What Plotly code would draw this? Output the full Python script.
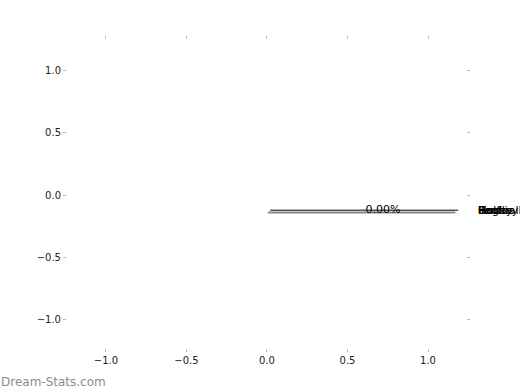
import plotly.graph_objects as go

# Data
categories = ["Tennis", "Golf", "Rugby", "Hockey", "Football"]
values = [0, 0, 0, 0, 0]
x_ticks = [-1.0, -0.5, 0.0, 0.5, 1.0]
y_ticks = [-1.0, -0.5, 0.0, 0.5, 1.0]

radius = 1.2
center_y = [-0.122, -0.14]   # two visible degenerate wedge edges
edge_colors = ["#000000", "#888888"]
edge_widths = [1, 2]
edge_start = [0.02, 0.005]
label_distance = 1.1
pct_distance = 0.6

x_range = [-1.242, 1.236]
y_range = [-1.229, 1.245]

total = sum(values)
pcts = [(v / total * 100) if total else 0.0 for v in values]

fig = go.Figure()

for cy, col, w, s in zip(center_y[::-1], edge_colors[::-1], edge_widths[::-1], edge_start[::-1]):
    fig.add_trace(go.Scatter(x=[s, radius * (0.99 if w == 1 else 0.975)], y=[cy, cy], mode="lines",
                             line=dict(color=col, width=w), hoverinfo="skip", showlegend=False))

pct_texts = sorted(set(f"{p:.2f}%" for p in pcts))
fig.add_trace(go.Scatter(
    x=[radius * pct_distance] * len(pct_texts), y=[center_y[0]] * len(pct_texts),
    mode="text", text=pct_texts, textposition="middle center",
    textfont=dict(family="DejaVu Sans", size=11, color="#000000"),
    showlegend=False, hoverinfo="skip", cliponaxis=False))

# category labels lie outside the axis range -> place in paper coords
lx = (radius * label_distance - x_range[0]) / (x_range[1] - x_range[0])
ly = (center_y[0] - y_range[0]) / (y_range[1] - y_range[0])
for cat in categories:
    fig.add_annotation(x=lx, y=ly, xref="paper", yref="paper", xshift=-4,
                       text=cat, showarrow=False, xanchor="left", yanchor="middle",
                       font=dict(family="DejaVu Sans", size=11, color="#000000"))

axis_common = dict(showgrid=False, zeroline=False, showline=False, ticks="outside",
                   ticklen=3, tickwidth=1, tickcolor="#bbbbbb", mirror="ticks",
                   tickfont=dict(family="DejaVu Sans", size=10, color="#222222"))

fig.update_xaxes(range=x_range, tickvals=x_ticks, ticktext=[f"{t:.1f}".replace("-", "\u2212") for t in x_ticks],
                 **axis_common)
fig.update_yaxes(range=y_range, tickvals=y_ticks, ticktext=[f"{t:.1f}".replace("-", "\u2212") for t in y_ticks],
                 **axis_common)

fig.add_annotation(text="Dream-Stats.com", xref="paper", yref="paper", x=0, y=0,
                   xanchor="left", yanchor="top", yshift=-25, xshift=-68, showarrow=False,
                   font=dict(family="DejaVu Sans", size=12, color="#8c8c8c"))

fig.update_layout(width=520, height=390, margin=dict(l=67, r=54, t=40, b=42),
                  plot_bgcolor="white", paper_bgcolor="white")

fig.write_html("out.html")
